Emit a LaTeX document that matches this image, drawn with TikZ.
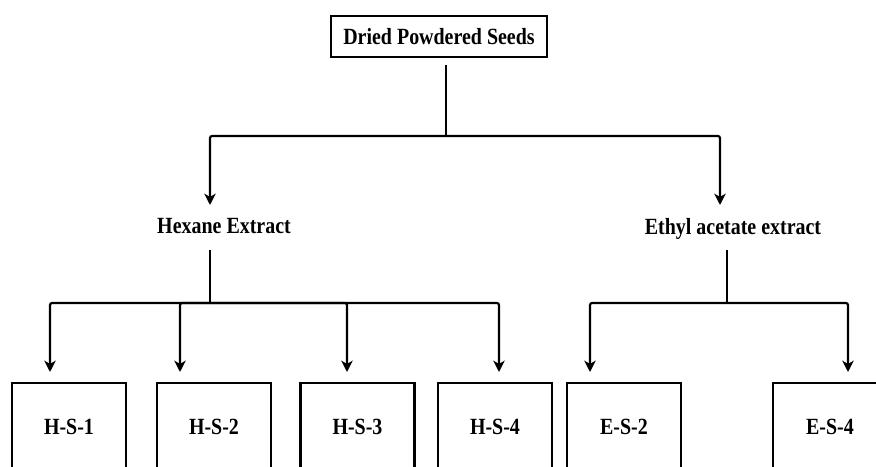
\documentclass[tikz,border=0pt]{standalone}
\usepackage{fontspec}
\setmainfont[FakeStretch=0.86]{Liberation Serif}
\usetikzlibrary{arrows.meta}
\tikzset{
    lbl/.style={font=\bfseries\fontsize{17.4}{20}\selectfont, inner sep=0pt, text depth=0pt},
    box/.style={lbl, draw, line width=1.8pt, minimum width=85.5pt, minimum height=66pt},
    topbox/.style={lbl, draw, line width=1.8pt, minimum width=162pt, minimum height=30.75pt},
    ln/.style={line width=1.6pt, rounded corners=1.5pt},
    arr/.style={ln, -{Stealth[length=8.5pt,width=8.5pt,inset=2.5pt]}}
}
\begin{document}
\begin{tikzpicture}[x=0.75pt,y=-0.75pt]
    \clip (0,0) rectangle (876,467);
    \node[topbox] (seeds) at (439,36.5) {Dried Powdered Seeds};
    \node[lbl] (hex) at (224,226) {Hexane Extract};
    \node[lbl] (eth) at (733,226) {Ethyl acetate extract};
    \foreach \n/\x in {H-S-1/69,H-S-2/214,H-S-3/357.5,H-S-4/495,E-S-2/624,E-S-4/830}
        \node[box] (\n) at (\x,427) {\n};

    % seeds -> extracts
    \coordinate (sout) at (446,65);
    \coordinate (sj) at (446,136);
    \draw[ln] (sout) -- (sj);
    \coordinate (hexin) at (210,205);
    \coordinate (ethin) at (720,205);
    \draw[arr] (sj) -| (hexin);
    \draw[arr] (sj) -| (ethin);

    % hexane -> fractions
    \coordinate (hout) at (210,250);
    \coordinate (hj) at (210,303);
    \draw[ln] (hout) -- (hj);
    \foreach \x in {50,180,347,499}
        \draw[arr] (hj) -| (\x,372);

    % ethyl acetate -> fractions
    \coordinate (eout) at (727,250);
    \coordinate (ej) at (727,303);
    \draw[ln] (eout) -- (ej);
    \foreach \x in {590,848}
        \draw[arr] (ej) -| (\x,372);
\end{tikzpicture}
\end{document}
